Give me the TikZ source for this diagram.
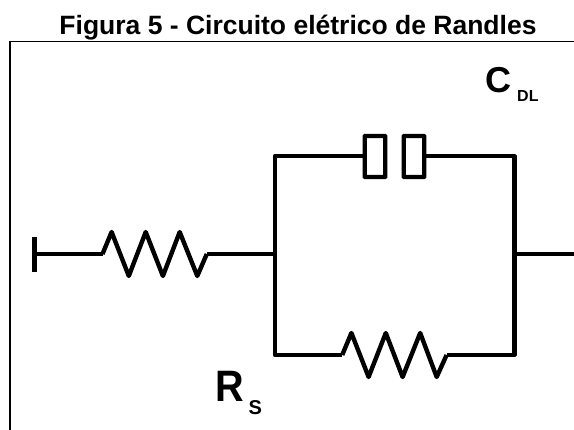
\documentclass[tikz,border=0pt]{standalone}
\usepackage{fontspec}
\setmainfont{Liberation Sans}
\usetikzlibrary{positioning}
\tikzset{
  wire/.style={line width=4.4pt,line join=round,line cap=butt},
  plate/.style={draw,line width=4.4pt,rounded corners=0.5pt,minimum width=20.5pt,minimum height=41pt,inner sep=0pt,outer sep=0pt},
  frameline/.style={line width=1.3pt}
}
\begin{document}
\begin{tikzpicture}[x=1pt,y=-1pt]
\useasboundingbox (0,0) rectangle (574,430);

% Title and frame
\node[font=\bfseries\fontsize{26.5}{30}\selectfont,inner sep=0pt,anchor=base] (title) at (298,35) {Figura 5 - Circuito elétrico de Randles};
\draw[frameline] (10,430) -- (10,41.5) -- (574,41.5);

% Points of the circuit
\coordinate (terminal) at (34.4,254);
\coordinate (termTop) at (34.4,237);
\coordinate (termBot) at (34.4,272);
\coordinate (rsIn) at (102.5,254);
\coordinate (rsOut) at (206.8,254);
\coordinate (nodeL) at (274.9,254);
\coordinate (nodeR) at (514.3,254);
\coordinate (outR) at (574,254);
\coordinate (topL) at (274.9,156);
\coordinate (topR) at (514.3,156);
\coordinate (botL) at (274.9,355);
\coordinate (botR) at (514.3,355);
\coordinate (rctIn) at (342.2,355);
\coordinate (rctOut) at (446.6,355);

% Capacitor
\node[plate] (plateL) at (375,156.5) {};
\node[plate] (plateR) at (414,156.5) {};

% Wires
\draw[wire,line width=5.5pt] (termTop) -- (termBot);
\draw[wire] (terminal) -- (rsIn);
\draw[wire] (rsOut) -- (nodeL);
\draw[wire] (nodeR) -- (outR);
\draw[wire] (plateL.west |- topL) -- (topL) -- (botL) -- (rctIn);
\draw[wire] (plateR.east |- topR) -- (topR) -- (botR) -- (rctOut);

% Resistors
\draw[wire] (rsIn) -- ++(9.1,-22) -- ++(17.2,44) -- ++(16.9,-44) -- ++(17.2,44) -- ++(16.8,-44) -- ++(17.6,44) -- (rsOut);
\draw[wire] (rctIn) -- ++(9.2,-22) -- ++(17.2,44) -- ++(17.2,-44) -- ++(16.8,44) -- ++(17.6,-44) -- ++(16.5,44) -- (rctOut);

% Labels
\node[font=\bfseries\fontsize{36}{40}\selectfont,inner sep=0pt,anchor=base west] (labelC) at (485.5,93) {C};
\node[font=\bfseries\fontsize{16}{18}\selectfont,inner sep=0pt,anchor=base west] (labelDL) at (517,102) {DL};
\node[font=\bfseries\fontsize{44}{48}\selectfont,inner sep=0pt,anchor=base west,xscale=.9,transform shape] (labelR) at (215,402) {R};
\node[font=\bfseries\fontsize{20}{22}\selectfont,inner sep=0pt,anchor=base west] (labelS) at (248.5,415) {S};
\end{tikzpicture}
\end{document}
